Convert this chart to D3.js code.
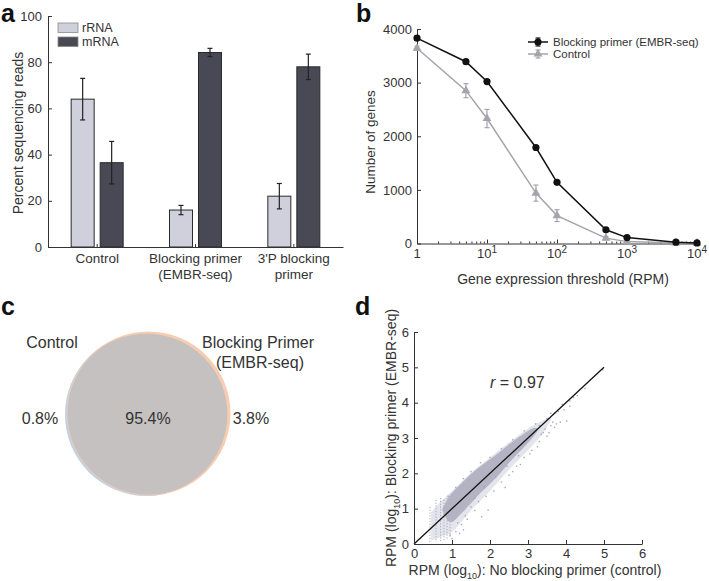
<!DOCTYPE html>
<html><head><meta charset="utf-8">
<script src="https://cdn.jsdelivr.net/npm/d3@7"></script>
<style>
html,body{margin:0;padding:0;background:#fff;}
svg{display:block;font-family:"Liberation Sans",Arial,sans-serif;}
text{fill:#333;}
</style></head>
<body>
<svg id="chart" width="709" height="581"></svg>
<script>
// ---------- Panel a data ----------
const groups = ["Control", "Blocking primer (EMBR-seq)", "3'P blocking primer"];
const groupLabelLines = [["Control"], ["Blocking primer", "(EMBR-seq)"], ["3'P blocking", "primer"]];
const seriesA = ["rRNA", "mRNA"];
const rRNA = [64, 16, 22];
const rRNAerr = [9, 2, 5.5];
const mRNA = [36.5, 84.2, 78];
const mRNAerr = [9.2, 1.8, 5.5];
const yTicksA = [0, 20, 40, 60, 80, 100];

// ---------- Panel b data ----------
const thresholds = [1, 5, 10, 50, 100, 500, 1000, 5000, 10000];
const blockingGenes = [3830, 3390, 3020, 1790, 1140, 255, 110, 25, 10];
const blockingErr = [40, 30, 30, 30, 25, 15, 10, 5, 3];
const controlGenes = [3640, 2850, 2330, 940, 520, 100, 35, 10, 5];
const controlErr = [40, 130, 170, 150, 110, 30, 15, 5, 3];
const yTicksB = [0, 1000, 2000, 3000, 4000];
const xTicksB = [1, 10, 100, 1000, 10000];
const seriesB = ["Blocking primer (EMBR-seq)", "Control"];

// ---------- Panel c data ----------
const vennSets = ["Control", "Blocking Primer (EMBR-seq)"];
const vennPct = ["0.8%", "95.4%", "3.8%"];

// ---------- Panel d data ----------
const ticksD = [0, 1, 2, 3, 4, 5, 6];
const haloX  = [0.45, 0.7, 1.0, 1.5, 2.0, 2.5, 3.0, 3.4, 3.6];
const haloHi = [0.9, 1.2, 1.5, 2.02, 2.45, 2.87, 3.27, 3.5, 3.6];
const haloLo = [0.1, 0.2, 0.35, 0.95, 1.5, 2.1, 2.65, 3.15, 3.5];
const bandX  = [0.75, 0.9, 1.0, 1.25, 1.5, 1.75, 2.0, 2.25, 2.5, 2.75, 3.0, 3.15, 3.25];
const bandHi = [1.0, 1.3, 1.45, 1.72, 1.98, 2.2, 2.4, 2.6, 2.82, 3.02, 3.2, 3.28, 3.27];
const bandLo = [0.95, 0.65, 0.62, 0.87, 1.15, 1.45, 1.7, 1.98, 2.3, 2.58, 2.86, 3.05, 3.2];
const stripeX   = [0.42, 0.58, 0.70, 0.79, 0.87, 0.95];
const stripeTop = [1.05, 1.25, 1.3, 1.25, 1.3, 1.35];
const stripeBot = [0.05, 0.05, 0.08, 0.1, 0.15, 0.2];
const scatterX = [1.1,1.25,1.4,1.6,1.78,1.95,1.5,1.7,1.9,2.1,2.3,2.5,2.7,2.9,3.1,3.3,3.5,3.7,3.85,4.02,3.6,3.4,3.3,3.5,3.7,3.9,4.1,4.3,4.97,4.5,3.6,3.2,2.9,2.6,2.3,2.0,1.75,1.5,1.3,1.1,0.9,1.2,0.95,1.0,1.3,2.4,2.6,2.8,3.05,3.25,3.45,3.55,3.75,3.8,4.1,4.2,1.15,1.35,1.6,1.85,2.15,2.45,2.75,3.35,3.65,3.95];
const scatterY = [0.35,0.55,0.7,0.95,0.77,0.96,1.05,1.2,1.35,1.5,1.75,1.95,2.2,2.45,2.65,2.9,3.05,3.3,3.45,3.48,3.35,3.15,3.35,3.55,3.7,3.95,4.05,4.2,4.93,4.4,3.7,3.4,3.2,2.95,2.7,2.45,2.3,2.05,1.85,1.6,1.35,0.3,0.25,0.15,0.4,1.6,2.05,2.25,2.55,2.75,3.25,3.15,3.4,3.75,3.9,4.15,0.6,0.8,1.3,1.6,1.9,2.2,2.5,3.1,3.45,3.8];
const diagX = [0, 5];
const rLabel = "0.97";

const svg = d3.select("#chart");
const INK = "#333";
const FONT_TICK = 13;

function panelLetter(t, x, y) {
  svg.append("text").attr("x", x).attr("y", y).text(t)
    .style("font-size", "25px").style("font-weight", "bold").style("fill", "#111");
}
function styleAxis(g) {
  g.selectAll("path,line").attr("stroke", INK).attr("stroke-width", 1);
  g.selectAll("text").style("font-size", FONT_TICK + "px").style("fill", INK).attr("font-family", null);
}

// ================= Panel a =================
(function () {
  const x = d3.scaleBand().domain(groups).range([48, 343]);
  const y = d3.scaleLinear().domain([0, 100]).range([247, 16]);
  const g = svg.append("g");
  const barW = 23, gap = 6;
  const fills = { rRNA: "#d0d0dd", mRNA: "#494955" };
  const vals = { rRNA: rRNA, mRNA: mRNA };
  const errs = { rRNA: rRNAerr, mRNA: mRNAerr };

  seriesA.forEach((s, si) => {
    groups.forEach((grp, i) => {
      const c = x(grp) + x.bandwidth() / 2;
      const bx = si === 0 ? c - gap / 2 - barW : c + gap / 2;
      g.append("rect").attr("x", bx).attr("width", barW)
        .attr("y", y(vals[s][i])).attr("height", y(0) - y(vals[s][i]))
        .attr("fill", fills[s]).attr("stroke", "#2a2a2a").attr("stroke-width", 1);
      const ex = bx + barW / 2;
      const top = y(vals[s][i] + errs[s][i]), bot = y(vals[s][i] - errs[s][i]);
      g.append("line").attr("x1", ex).attr("x2", ex).attr("y1", top).attr("y2", bot).attr("stroke", "#222").attr("stroke-width", 1.2);
      [top, bot].forEach(v => g.append("line").attr("x1", ex - 2.5).attr("x2", ex + 2.5).attr("y1", v).attr("y2", v).attr("stroke", "#222").attr("stroke-width", 1.2));
    });
  });

  const ya = g.append("g").attr("transform", "translate(48,0)")
    .call(d3.axisLeft(y).tickValues(yTicksA).tickSize(-4).tickSizeOuter(0).tickPadding(6));
  styleAxis(ya);
  const xa = g.append("g").attr("transform", "translate(0,247)")
    .call(d3.axisBottom(x).tickSize(-3).tickSizeOuter(0).tickFormat(""));
  styleAxis(xa);
  groups.forEach((grp, i) => {
    const c = x(grp) + x.bandwidth() / 2;
    groupLabelLines[i].forEach((ln, k) => {
      g.append("text").attr("x", c).attr("y", 263 + k * 16).attr("text-anchor", "middle")
        .style("font-size", "13.5px").text(ln);
    });
  });
  g.append("text").attr("transform", "translate(23,133) rotate(-90)").attr("text-anchor", "middle")
    .style("font-size", "14px").text("Percent sequencing reads");
  // legend
  seriesA.forEach((s, i) => {
    g.append("rect").attr("x", 58).attr("y", 23 + i * 14).attr("width", 20).attr("height", 9.5)
      .attr("fill", fills[s]).attr("stroke", "#888").attr("stroke-width", 0.8);
    g.append("text").attr("x", 82).attr("y", 32 + i * 14).style("font-size", "12.5px").text(s);
  });
  panelLetter("a", 1, 22);
})();

// ================= Panel b =================
(function () {
  const x = d3.scaleLog().domain([1, 10000]).range([417, 697]);
  const y = d3.scaleLinear().domain([0, 4000]).range([243.5, 29]);
  const g = svg.append("g");
  const yax = g.append("g").attr("transform", "translate(417,0)")
    .call(d3.axisLeft(y).tickValues(yTicksB).tickSize(-4).tickSizeOuter(0).tickPadding(5).tickFormat(d3.format("d")));
  styleAxis(yax);
  // minor ticks
  const minor = [];
  for (let e = 0; e < 4; e++) for (let m = 2; m <= 9; m++) minor.push(m * Math.pow(10, e));
  const xax = g.append("g").attr("transform", "translate(0,243.5)")
    .call(d3.axisBottom(x).tickValues(minor).tickSize(-2).tickSizeOuter(0).tickFormat(""));
  styleAxis(xax);
  const xax2 = g.append("g").attr("transform", "translate(0,243.5)")
    .call(d3.axisBottom(x).tickValues(xTicksB).tickSize(-4).tickSizeOuter(0).tickFormat(""));
  styleAxis(xax2);
  xax2.select(".domain").remove();
  xTicksB.forEach(v => {
    const e = Math.round(Math.log10(v));
    const t = g.append("text").attr("x", x(v)).attr("y", 258).attr("text-anchor", "middle").style("font-size", FONT_TICK + "px");
    if (e === 0) t.text("1");
    else {
      t.append("tspan").text("10");
      t.append("tspan").attr("dy", -5).style("font-size", "10px").text(e);
    }
  });
  g.append("text").attr("x", 563).attr("y", 284).attr("text-anchor", "middle").style("font-size", "14px")
    .text("Gene expression threshold (RPM)");
  g.append("text").attr("transform", "translate(375,142) rotate(-90)").attr("text-anchor", "middle")
    .style("font-size", "13.5px").text("Number of genes");

  const line = d3.line().x((d, i) => x(thresholds[i])).y(d => y(d));
  const defs = [
    { vals: controlGenes, err: controlErr, color: "#a4a4ac", marker: "tri" },
    { vals: blockingGenes, err: blockingErr, color: "#111", marker: "circ" }
  ];
  const tri = d3.symbol(d3.symbolTriangle).size(34);
  function drawMarker(sel, cx, cy, d) {
    if (d.marker === "circ") sel.append("circle").attr("cx", cx).attr("cy", cy).attr("r", 3.6).attr("fill", d.color);
    else sel.append("path").attr("d", tri()).attr("transform", `translate(${cx},${cy})`).attr("fill", d.color);
  }
  function errBar(sel, cx, cy1, cy2, color) {
    sel.append("line").attr("x1", cx).attr("x2", cx).attr("y1", cy1).attr("y2", cy2).attr("stroke", color).attr("stroke-width", 1.2);
    [cy1, cy2].forEach(v => sel.append("line").attr("x1", cx - 2.5).attr("x2", cx + 2.5).attr("y1", v).attr("y2", v).attr("stroke", color).attr("stroke-width", 1.2));
  }
  defs.forEach(d => {
    g.append("path").datum(d.vals).attr("d", line).attr("fill", "none").attr("stroke", d.color).attr("stroke-width", 1.5);
    d.vals.forEach((v, i) => {
      errBar(g, x(thresholds[i]), y(v + d.err[i]), y(v - d.err[i]), d.color);
      drawMarker(g, x(thresholds[i]), y(v), d);
    });
  });
  // legend
  const legDefs = [defs[1], defs[0]];
  seriesB.forEach((s, i) => {
    const ly = 42 + i * 12;
    const d = legDefs[i];
    g.append("line").attr("x1", 528).attr("x2", 548).attr("y1", ly).attr("y2", ly).attr("stroke", d.color).attr("stroke-width", 1.5);
    errBar(g, 538, ly - 4, ly + 4, d.color);
    drawMarker(g, 538, ly, d);
    g.append("text").attr("x", 553).attr("y", ly + 4).style("font-size", "11.5px").text(s);
  });
  panelLetter("b", 356, 22);
})();

// ================= Panel c =================
(function () {
  const g = svg.append("g");
  const cA = { x: 146.5, y: 414.5, r: 81.5 };
  const cB = { x: 148.5, y: 413.5, r: 82 };
  g.append("circle").attr("cx", cA.x).attr("cy", cA.y).attr("r", cA.r).attr("fill", "#b9d1ea");
  g.append("circle").attr("cx", cB.x).attr("cy", cB.y).attr("r", cB.r).attr("fill", "#f6cdb0");
  svg.append("defs").append("clipPath").attr("id", "clipA")
    .append("circle").attr("cx", cA.x).attr("cy", cA.y).attr("r", cA.r - 0.6);
  g.append("circle").attr("cx", cB.x).attr("cy", cB.y).attr("r", cB.r - 0.8).attr("fill", "#c6c1c1").attr("clip-path", "url(#clipA)");
  const fs = "16px";
  g.append("text").attr("x", 52).attr("y", 348).attr("text-anchor", "middle").style("font-size", fs).text(vennSets[0]);
  const bl = vennSets[1].split(" (");
  g.append("text").attr("x", 258).attr("y", 348).attr("text-anchor", "middle").style("font-size", fs).text(bl[0]);
  g.append("text").attr("x", 260).attr("y", 368).attr("text-anchor", "middle").style("font-size", fs).text("(" + bl[1]);
  g.append("text").attr("x", 40).attr("y", 424).attr("text-anchor", "middle").style("font-size", fs).text(vennPct[0]);
  g.append("text").attr("x", 148).attr("y", 424).attr("text-anchor", "middle").style("font-size", fs).text(vennPct[1]);
  g.append("text").attr("x", 251).attr("y", 424).attr("text-anchor", "middle").style("font-size", fs).text(vennPct[2]);
  panelLetter("c", 1, 315);
})();

// ================= Panel d =================
(function () {
  const x = d3.scaleLinear().domain([0, 6]).range([414, 642]);
  const y = d3.scaleLinear().domain([0, 6]).range([544, 332]);
  const g = svg.append("g");
  const pc = "#a7a7b9";
  // halo (sparse spread)
  const halo = d3.area().x((d, i) => x(haloX[i])).y0((d, i) => y(haloLo[i])).y1(d => y(d)).curve(d3.curveCatmullRom);
  g.append("path").datum(haloHi).attr("d", halo).attr("fill", "#e4e4ec");
  // stripes
  stripeX.forEach((sx, i) => {
    g.append("line").attr("x1", x(sx)).attr("x2", x(sx)).attr("y1", y(stripeTop[i])).attr("y2", y(stripeBot[i]))
      .attr("stroke", pc).attr("stroke-width", 1).attr("stroke-dasharray", "1.2,1.6");
  });
  // dense band
  const area = d3.area().x((d, i) => x(bandX[i])).y0((d, i) => y(bandLo[i])).y1(d => y(d)).curve(d3.curveCatmullRom);
  g.append("path").datum(bandHi).attr("d", area).attr("fill", "#b3b3c4");
  // scatter
  scatterX.forEach((sx, i) => {
    g.append("rect").attr("x", x(sx) - 0.7).attr("y", y(scatterY[i]) - 0.7).attr("width", 1.4).attr("height", 1.4).attr("fill", pc);
  });
  // diagonal
  g.append("line").attr("x1", x(diagX[0])).attr("y1", y(diagX[0])).attr("x2", x(diagX[1])).attr("y2", y(diagX[1]))
    .attr("stroke", "#111").attr("stroke-width", 1.3);
  const xa = g.append("g").attr("transform", "translate(0,544)")
    .call(d3.axisBottom(x).tickValues(ticksD).tickSize(-4).tickSizeOuter(0).tickPadding(5).tickFormat(d3.format("d")));
  styleAxis(xa);
  const ya = g.append("g").attr("transform", "translate(414,0)")
    .call(d3.axisLeft(y).tickValues(ticksD).tickSize(-4).tickSizeOuter(0).tickPadding(5).tickFormat(d3.format("d")));
  styleAxis(ya);
  const t = g.append("text").attr("x", 490).attr("y", 388).style("font-size", "16px");
  t.append("tspan").style("font-style", "italic").text("r");
  t.append("tspan").text(" = " + rLabel);
  // x label
  const xl = g.append("text").attr("x", 535).attr("y", 575).attr("text-anchor", "middle").style("font-size", "14px");
  xl.append("tspan").text("RPM (log");
  xl.append("tspan").attr("dy", 4).style("font-size", "9px").text("10");
  xl.append("tspan").attr("dy", -4).text("): No blocking primer (control)");
  const yl = g.append("text").attr("transform", "translate(396,438) rotate(-90)").attr("text-anchor", "middle").style("font-size", "14px");
  yl.append("tspan").text("RPM (log");
  yl.append("tspan").attr("dy", 4).style("font-size", "9px").text("10");
  yl.append("tspan").attr("dy", -4).text("): Blocking primer (EMBR-seq)");
  panelLetter("d", 355, 315);
})();
</script>
</body></html>
